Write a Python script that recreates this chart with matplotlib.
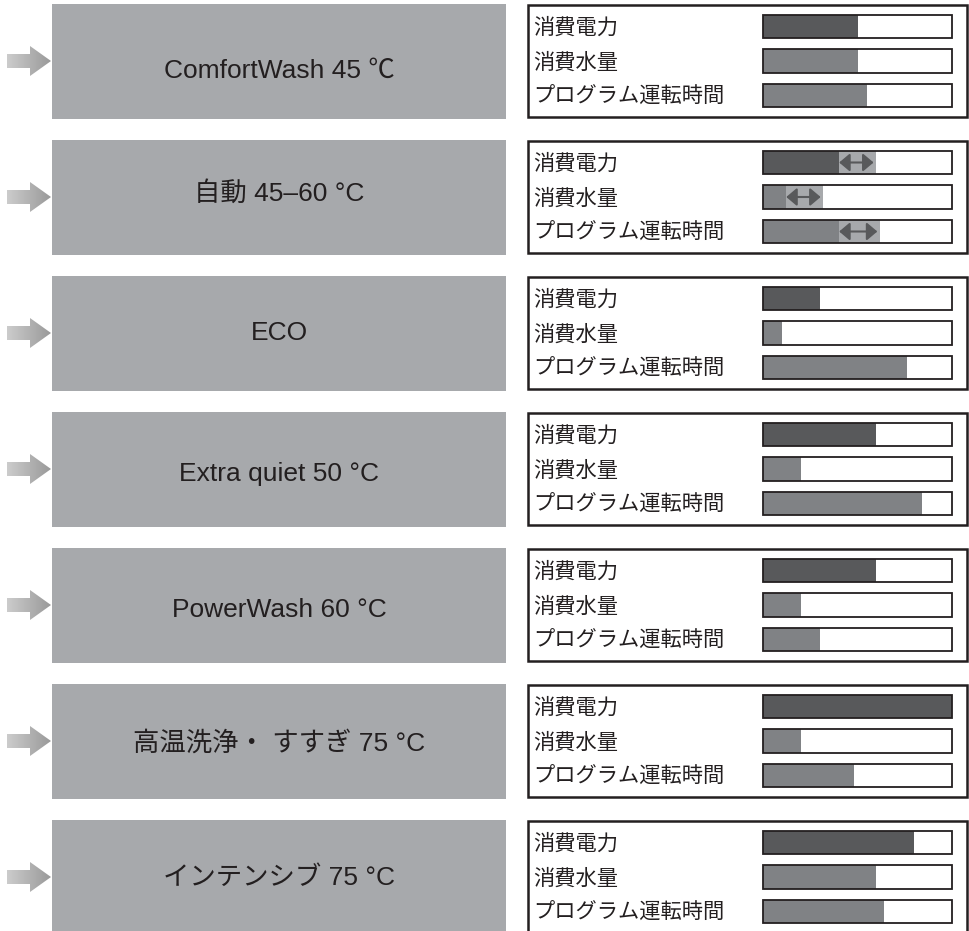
import numpy as np
import matplotlib
matplotlib.use("Agg")
import matplotlib.pyplot as plt
from matplotlib.patches import Rectangle, Polygon

# ---------------- data ----------------
programs = ["ComfortWash 45 ℃", "自動 45–60 °C", "ECO", "Extra quiet 50 °C",
            "PowerWash 60 °C", "高温洗浄・ すすぎ 75 °C", "インテンシブ 75 °C"]
metrics = ["消費電力", "消費水量", "プログラム運転時間"]
nan = np.nan
power = [0.50, 0.40, 0.30, 0.60, 0.60, 1.00, 0.80]
power_max = [nan, 0.60, nan, nan, nan, nan, nan]
water = [0.50, 0.12, 0.10, 0.20, 0.20, 0.20, 0.60]
water_max = [nan, 0.32, nan, nan, nan, nan, nan]
duration = [0.55, 0.40, 0.76, 0.84, 0.30, 0.48, 0.64]
duration_max = [nan, 0.62, nan, nan, nan, nan, nan]

# ---------------- style / layout ----------------
W, H = 969, 931
BOX = "#a7a9ac"
DARK = "#58595b"
MID = "#808285"
LIGHT = "#a7a9ac"
EDGE = "#231f20"
TXT = "#231f20"
LATIN_CJK = ["Liberation Sans", "Noto Sans CJK JP"]
CJK = ["Noto Sans CJK JP", "DejaVu Sans"]

ROW_TOP0, ROW_STEP = 5, 136
name_dy = [66, 52, 56, 61, 61, 58, 57]

fig = plt.figure(figsize=(W / 100, H / 100), dpi=100)
ax = fig.add_axes([0, 0, 1, 1])
ax.set_xlim(0, W)
ax.set_ylim(H, 0)
ax.axis("off")


def frect(x, y, w, h):
    return [x / W, 1 - (y + h) / H, w / W, h / H]


# gradient image for the left arrows
grad = np.linspace(0.80, 0.60, 256).reshape(1, -1)

for i, name in enumerate(programs):
    top = ROW_TOP0 + ROW_STEP * i
    # grey program box
    ax.add_patch(Rectangle((52, top - 1), 454, 115, facecolor=BOX, edgecolor="none"))
    ax.text(279, top + name_dy[i], name, ha="center", va="center",
            fontsize=19, color=TXT, family=LATIN_CJK)

    # left arrow with gradient
    cy = top + 56
    pts = [(7, cy - 7), (30, cy - 7), (30, cy - 15), (51, cy), (30, cy + 15),
           (30, cy + 7), (7, cy + 7)]
    poly = Polygon(pts, closed=True, facecolor="none", edgecolor="none")
    ax.add_patch(poly)
    im = ax.imshow(grad, cmap="gray", vmin=0, vmax=1, aspect="auto",
                   extent=(7, 51, cy + 15, cy - 15), interpolation="bilinear")
    im.set_clip_path(poly)

    # right panel frame
    ax.add_patch(Rectangle((528, top), 439, 112, facecolor="white",
                           edgecolor=EDGE, linewidth=1.8, zorder=1))

    # metric labels
    for j, m in enumerate(metrics):
        ax.text(533, top + 23 + 34.5 * j, m, ha="left", va="center",
                fontsize=15.3, color=TXT, family=CJK)

    # bars
    bax = fig.add_axes(frect(763, top + 4.25, 189, 103.5))
    bax.set_xlim(0, 1)
    bax.set_ylim(2.5, -0.5)
    bax.axis("off")
    y = np.arange(3)
    vals = [power[i], water[i], duration[i]]
    maxs = [power_max[i], water_max[i], duration_max[i]]
    cols = [DARK, MID, MID]
    hgt = 0.667
    bax.barh(y, [1, 1, 1], height=hgt, color="white", edgecolor="none")
    for j in range(3):
        if not np.isnan(maxs[j]):
            bax.barh(j, maxs[j] - vals[j], left=vals[j], height=hgt,
                     color=LIGHT, edgecolor="none")
    bax.barh(y, vals, height=hgt, color=cols, edgecolor="none")
    for j in range(3):
        if not np.isnan(maxs[j]):
            bax.annotate("", xy=(maxs[j] - 0.015, j), xytext=(vals[j] + 0.003, j),
                         arrowprops=dict(arrowstyle="<|-|>,head_length=0.32,head_width=0.27",
                                         mutation_scale=20, lw=1.5, color=DARK,
                                         shrinkA=0, shrinkB=0))
    bax.barh(y, [1, 1, 1], height=hgt, fill=False, edgecolor=EDGE,
             linewidth=1.3, clip_on=False)

fig.savefig("out.png", dpi=100)
